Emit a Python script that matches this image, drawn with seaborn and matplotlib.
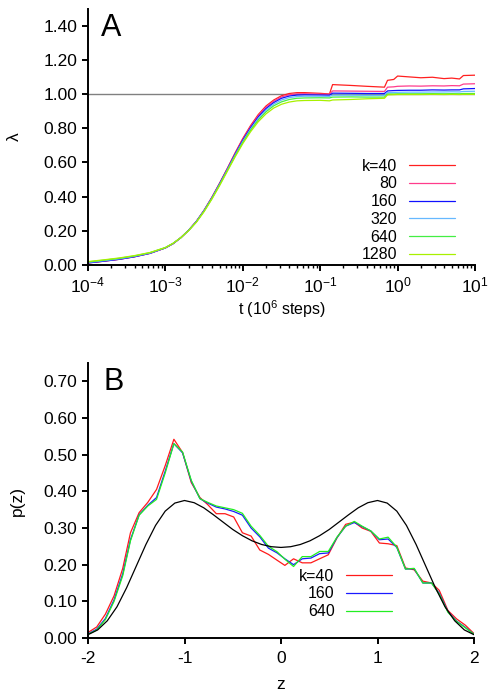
import numpy as np
import pandas as pd
import matplotlib
matplotlib.use("Agg")
import matplotlib.pyplot as plt
import seaborn as sns
from matplotlib.lines import Line2D
from matplotlib.ticker import FormatStrFormatter, LogLocator

sns.set_theme(style="white")
plt.rcParams['font.family'] = ['Liberation Sans', 'DejaVu Sans']
plt.rcParams['mathtext.fontset'] = 'custom'
plt.rcParams['mathtext.rm'] = 'Liberation Sans'
plt.rcParams['mathtext.it'] = 'Liberation Sans:italic'
plt.rcParams['axes.unicode_minus'] = False
plt.rcParams['text.color'] = 'black'
plt.rcParams['axes.labelcolor'] = 'black'
plt.rcParams['xtick.color'] = 'black'
plt.rcParams['ytick.color'] = 'black'
plt.rcParams['legend.labelcolor'] = 'black'

# ---------------- Panel A data ----------------
logt = [-4.0, -3.8, -3.6, -3.4, -3.2, -3.0, -2.9, -2.8, -2.7, -2.6, -2.5, -2.4, -2.3,
        -2.2, -2.1, -2.0, -1.9, -1.8, -1.7, -1.6, -1.5, -1.4, -1.3, -1.2, -1.0, -0.88,
        -0.84, -0.6, -0.4, -0.17, -0.13, -0.05, 0.0, 0.15, 0.3, 0.45, 0.6, 0.7, 0.8,
        0.85, 1.0]
lam_k40 = [0.012, 0.022, 0.033, 0.048, 0.068, 0.100, 0.125, 0.160, 0.203, 0.255, 0.320,
           0.395, 0.478, 0.565, 0.655, 0.740, 0.815, 0.880, 0.930, 0.965, 0.990, 1.003,
           1.008, 1.008, 1.004, 1.000, 1.055, 1.050, 1.045, 1.040, 1.080, 1.085, 1.105,
           1.100, 1.095, 1.098, 1.090, 1.093, 1.088, 1.108, 1.110]
lam_k80 = [0.013, 0.023, 0.034, 0.049, 0.069, 0.100, 0.125, 0.160, 0.203, 0.255, 0.320,
           0.395, 0.477, 0.563, 0.652, 0.735, 0.809, 0.873, 0.923, 0.958, 0.983, 0.996,
           1.001, 1.002, 0.999, 0.998, 1.018, 1.017, 1.016, 1.015, 1.040, 1.042, 1.045,
           1.047, 1.046, 1.048, 1.047, 1.049, 1.048, 1.058, 1.060]
lam_k160 = [0.012, 0.022, 0.033, 0.048, 0.068, 0.100, 0.125, 0.160, 0.203, 0.255, 0.319,
            0.393, 0.475, 0.560, 0.648, 0.730, 0.803, 0.866, 0.915, 0.950, 0.975, 0.988,
            0.994, 0.995, 0.994, 0.993, 1.005, 1.004, 1.003, 1.003, 1.018, 1.020, 1.021,
            1.022, 1.022, 1.024, 1.023, 1.024, 1.024, 1.030, 1.032]
lam_k320 = [0.015, 0.025, 0.036, 0.051, 0.070, 0.101, 0.126, 0.160, 0.202, 0.253, 0.317,
            0.390, 0.471, 0.556, 0.642, 0.723, 0.795, 0.857, 0.906, 0.941, 0.965, 0.979,
            0.985, 0.987, 0.987, 0.986, 0.993, 0.993, 0.992, 0.992, 1.008, 1.009, 1.010,
            1.011, 1.011, 1.012, 1.012, 1.013, 1.012, 1.015, 1.016]
lam_k640 = [0.018, 0.028, 0.039, 0.053, 0.072, 0.102, 0.127, 0.160, 0.202, 0.252, 0.315,
            0.388, 0.468, 0.552, 0.637, 0.717, 0.788, 0.848, 0.896, 0.931, 0.954, 0.968,
            0.975, 0.977, 0.978, 0.977, 0.982, 0.983, 0.982, 0.982, 1.000, 1.000, 1.001,
            1.001, 1.001, 1.002, 1.001, 1.002, 1.001, 1.003, 1.003]
lam_k1280 = [0.020, 0.030, 0.041, 0.055, 0.073, 0.102, 0.127, 0.160, 0.201, 0.250, 0.312,
             0.385, 0.464, 0.548, 0.632, 0.710, 0.779, 0.838, 0.884, 0.918, 0.940, 0.953,
             0.960, 0.962, 0.963, 0.960, 0.965, 0.968, 0.972, 0.975, 0.995, 0.996, 0.997,
             0.997, 0.997, 0.998, 0.997, 0.998, 0.997, 0.998, 0.998]
labels_A = ["k=40", "80", "160", "320", "640", "1280"]
colors_A = ["#ff2020", "#ff3c8c", "#1010ff", "#66b8ff", "#44ee44", "#a8f000"]
series_A = [lam_k40, lam_k80, lam_k160, lam_k320, lam_k640, lam_k1280]
yticks_A = [0.0, 0.2, 0.4, 0.6, 0.8, 1.0, 1.2, 1.4]

# ---------------- Panel B data ----------------
z_hist = [-2.00, -1.91, -1.82, -1.73, -1.64, -1.56, -1.47, -1.38, -1.29, -1.20, -1.11,
          -1.02, -0.93, -0.84, -0.76, -0.67, -0.58, -0.49, -0.40, -0.31, -0.22, -0.13,
          -0.04, 0.04, 0.13, 0.22, 0.31, 0.40, 0.49, 0.58, 0.67, 0.76, 0.84, 0.93, 1.02,
          1.11, 1.20, 1.29, 1.38, 1.47, 1.56, 1.64, 1.73, 1.82, 1.91, 2.00]
p_k40 = [0.015, 0.030, 0.065, 0.115, 0.190, 0.287, 0.342, 0.370, 0.405, 0.470, 0.542,
         0.506, 0.424, 0.383, 0.364, 0.339, 0.339, 0.330, 0.287, 0.278, 0.240, 0.228,
         0.212, 0.198, 0.216, 0.205, 0.205, 0.216, 0.227, 0.273, 0.310, 0.316, 0.300,
         0.291, 0.259, 0.257, 0.252, 0.191, 0.186, 0.155, 0.150, 0.130, 0.075, 0.052,
         0.035, 0.012]
p_k160 = [0.011, 0.024, 0.053, 0.104, 0.175, 0.268, 0.336, 0.362, 0.383, 0.455, 0.530,
          0.505, 0.428, 0.380, 0.368, 0.357, 0.352, 0.345, 0.335, 0.300, 0.276, 0.245,
          0.232, 0.216, 0.200, 0.216, 0.218, 0.230, 0.232, 0.274, 0.305, 0.315, 0.304,
          0.292, 0.268, 0.270, 0.247, 0.188, 0.189, 0.150, 0.150, 0.122, 0.072, 0.046,
          0.029, 0.010]
p_k640 = [0.010, 0.022, 0.050, 0.100, 0.170, 0.265, 0.335, 0.360, 0.378, 0.450, 0.530,
          0.507, 0.430, 0.380, 0.370, 0.360, 0.355, 0.350, 0.340, 0.305, 0.280, 0.250,
          0.235, 0.215, 0.195, 0.222, 0.222, 0.236, 0.236, 0.275, 0.305, 0.318, 0.305,
          0.292, 0.270, 0.275, 0.248, 0.188, 0.190, 0.150, 0.150, 0.120, 0.070, 0.045,
          0.028, 0.010]
z_fit = [-2.0, -1.9, -1.8, -1.7, -1.6, -1.5, -1.4, -1.3, -1.2, -1.1, -1.0, -0.9, -0.8,
         -0.7, -0.6, -0.5, -0.4, -0.3, -0.2, -0.1, 0.0, 0.1, 0.2, 0.3, 0.4, 0.5, 0.6,
         0.7, 0.8, 0.9, 1.0, 1.1, 1.2, 1.3, 1.4, 1.5, 1.6, 1.7, 1.8, 1.9, 2.0]
p_fit = [0.009, 0.022, 0.047, 0.085, 0.137, 0.196, 0.255, 0.307, 0.346, 0.368, 0.375,
         0.369, 0.355, 0.336, 0.316, 0.296, 0.279, 0.265, 0.255, 0.249, 0.247, 0.249,
         0.255, 0.265, 0.279, 0.296, 0.316, 0.336, 0.355, 0.369, 0.375, 0.368, 0.346,
         0.307, 0.255, 0.196, 0.137, 0.085, 0.047, 0.022, 0.009]
labels_B = ["k=40", "160", "640"]
colors_B = ["#ff1a1a", "#1a1aff", "#22ee22"]
series_B = [p_k40, p_k160, p_k640]
yticks_B = [0.0, 0.1, 0.2, 0.3, 0.4, 0.5, 0.6, 0.7]
xticks_B = [-2, -1, 0, 1, 2]

W, H = 494, 698
fig = plt.figure(figsize=(W / 100, H / 100), dpi=100)
fig.patch.set_facecolor("white")

axA = fig.add_axes([88 / W, 1 - 265 / H, (475 - 88) / W, (265 - 8.5) / H])
axB = fig.add_axes([88 / W, 1 - 638 / H, (474 - 88) / W, (638 - 363) / H])

TFS = 12.5   # tick labels
FS = 11.5    # axis labels / legend
LW = 0.9
SPW = 1.4

def style_axes(ax):
    ax.set_facecolor("white")
    for s in ["top", "right"]:
        ax.spines[s].set_visible(False)
    for s in ["left", "bottom"]:
        ax.spines[s].set_linewidth(SPW)
        ax.spines[s].set_color("black")
    ax.tick_params(axis="both", which="major", direction="out", length=4.5, width=SPW,
                   colors="black", labelsize=TFS, pad=3, left=True, bottom=True)
    ax.tick_params(axis="x", which="minor", direction="out", length=2.5, width=1.0,
                   colors="black", bottom=True)
    ax.grid(False)

# ---------- Panel A ----------
axA.set_xscale("log")
tvals = [10 ** v for v in logt]
axA.axhline(1.0, color="#808080", lw=1.0, zorder=1)
for lab, col, vals in zip(labels_A, colors_A, series_A):
    df = pd.DataFrame({"t": tvals, "lam": vals})
    sns.lineplot(data=df, x="t", y="lam", ax=axA, color=col, lw=LW, label=lab,
                 estimator=None, sort=False)
axA.set_xlim(1e-4, 1e1)
axA.set_ylim(0, 1.5)
axA.set_yticks(yticks_A)
axA.yaxis.set_major_formatter(FormatStrFormatter("%.2f"))
axA.xaxis.set_major_locator(LogLocator(base=10, numticks=10))
axA.xaxis.set_minor_locator(LogLocator(base=10, subs=np.arange(2, 10), numticks=20))
style_axes(axA)
axA.tick_params(axis="x", which="major", pad=3)
axA.set_xlabel("t (10$^6$ steps)", fontsize=FS, labelpad=2, color="black")
axA.set_ylabel("λ", fontsize=FS + 1, color="black")
axA.yaxis.set_label_coords(-0.172, 0.5)
axA.text(101 / W, 1 - 36 / H, "A", transform=fig.transFigure, fontsize=22,
         ha="left", va="baseline", color="black")
handlesA = [Line2D([], [], color=c, lw=LW) for c in colors_A]
legA = axA.legend(handlesA, labels_A, loc="center right", bbox_to_anchor=(0.948, 0.2125),
                  frameon=False, markerfirst=False, fontsize=FS, handlelength=2.9,
                  handletextpad=0.7, labelspacing=0.17, borderpad=0, borderaxespad=0,
                  labelcolor="black")

# ---------- Panel B ----------
for lab, col, vals in zip(labels_B, colors_B, series_B):
    df = pd.DataFrame({"z": z_hist, "p": vals})
    sns.lineplot(data=df, x="z", y="p", ax=axB, color=col, lw=LW, label=lab,
                 estimator=None, sort=False)
dfit = pd.DataFrame({"z": z_fit, "p": p_fit})
sns.lineplot(data=dfit, x="z", y="p", ax=axB, color="black", lw=LW, estimator=None,
             sort=False)
axB.set_xlim(-2, 2)
axB.set_ylim(0, 0.75)
axB.set_xticks(xticks_B)
axB.set_xticklabels([str(v) for v in xticks_B])
axB.set_yticks(yticks_B)
axB.yaxis.set_major_formatter(FormatStrFormatter("%.2f"))
style_axes(axB)
axB.tick_params(axis="x", which="major", pad=5)
axB.set_xlabel("z", fontsize=FS + 1, labelpad=8, color="black")
axB.set_ylabel("p(z)", fontsize=FS + 1, color="black")
axB.yaxis.set_label_coords(-0.164, 0.5)
axB.text(103 / W, 1 - 390 / H, "B", transform=fig.transFigure, fontsize=22,
         ha="left", va="baseline", color="black")
handlesB = [Line2D([], [], color=c, lw=LW) for c in colors_B]
legB = axB.legend(handlesB, labels_B, loc="center right", bbox_to_anchor=(0.7876, 0.16),
                  frameon=False, markerfirst=False, fontsize=FS, handlelength=2.9,
                  handletextpad=0.7, labelspacing=0.17, borderpad=0, borderaxespad=0,
                  labelcolor="black")

fig.savefig("out.png", dpi=100, facecolor="white")
